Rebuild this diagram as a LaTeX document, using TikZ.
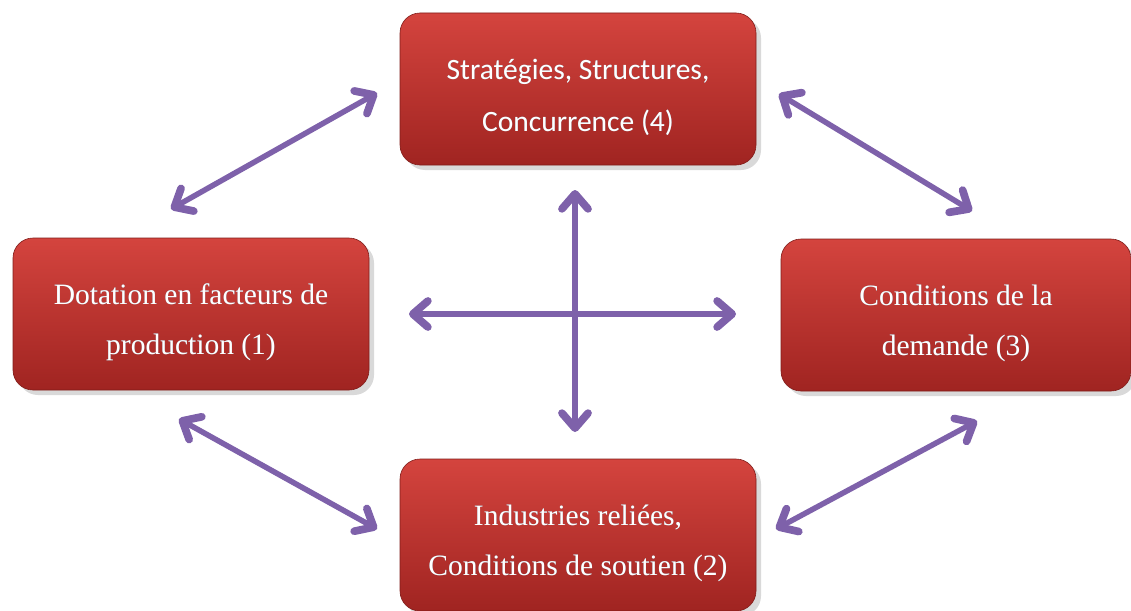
\documentclass[tikz,border=0pt]{standalone}
\usepackage{fontspec}
\setmainfont{Liberation Serif}
\newfontfamily\calib{Carlito}
\usepackage[outline]{contour}
\contourlength{1.5pt}
\usetikzlibrary{arrows.meta,shadows}
\definecolor{boxtop}{HTML}{D4443E}
\definecolor{boxbot}{HTML}{A02421}
\definecolor{arrowc}{HTML}{7E61AA}
\definecolor{glow}{HTML}{6A6A80}
\tikzset{
  redbox/.style={rounded corners=20pt, minimum width=356pt, minimum height=152pt,
    top color=boxtop, bottom color=boxbot, draw=boxbot!80!black, line width=0.6pt,
    drop shadow={shadow xshift=5pt, shadow yshift=-5pt, opacity=0.25, fill=black!60},
    text=white, align=center, inner sep=0pt},
  serifbox/.style={redbox, font=\fontsize{29.5}{50}\selectfont},
  tipx/.tip={Straight Barb[length=15pt,width=26pt,line width=0pt 1.4,line cap=round,line join=round]},
  link/.style={draw=arrowc, line width=5.5pt, line cap=round, tipx-tipx}
}
\newcommand{\gl}[1]{\contour{glow}{#1}}
\newcommand{\lift}{\rule{0pt}{38pt}}
\begin{document}
\begin{tikzpicture}[x=1pt,y=-1pt]
\useasboundingbox (0,0) rectangle (1131,610);
\node[redbox, font=\calib\fontsize{29.5}{52}\selectfont] (top) at (578,89) {\lift\gl{Stratégies, Structures,}\\\gl{Concurrence (4)}};
\node[serifbox] (left) at (191,314) {\lift\gl{Dotation en facteurs de}\\\gl{production (1)}};
\node[serifbox, minimum width=350pt] (right) at (956,315) {\lift\gl{Conditions de la}\\\gl{demande (3)}};
\node[serifbox] (bot) at (578,535) {\lift\gl{Industries reliées,}\\\gl{Conditions de soutien (2)}};
\coordinate (tl1) at (377,93);
\coordinate (tl2) at (171,209);
\coordinate (tr1) at (779,94);
\coordinate (tr2) at (972,211);
\coordinate (bl1) at (179,419);
\coordinate (bl2) at (377,529);
\coordinate (br1) at (977,421);
\coordinate (br2) at (776,529);
\coordinate (h1) at (409,314);
\coordinate (h2) at (736,314);
\coordinate (v1) at (575,190);
\coordinate (v2) at (575,432);
\draw[link] (tl1) -- (tl2);
\draw[link] (tr1) -- (tr2);
\draw[link] (bl1) -- (bl2);
\draw[link] (br1) -- (br2);
\draw[link] (h1) -- (h2);
\draw[link] (v1) -- (v2);
\end{tikzpicture}
\end{document}
